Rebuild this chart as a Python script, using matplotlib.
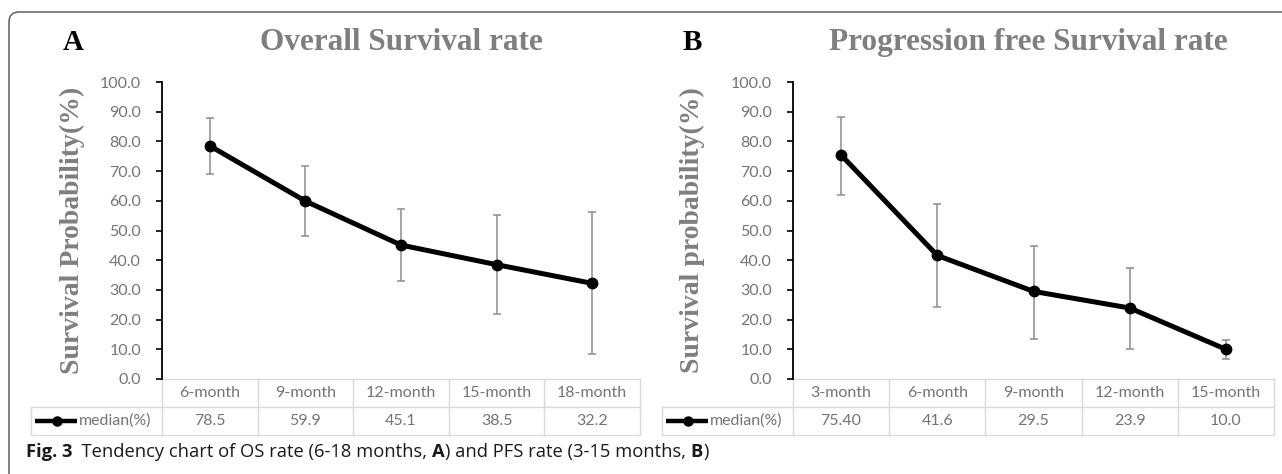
"""
Tendency chart of OS rate (A) and PFS rate (B) with error bars and data table.
"""

import matplotlib
matplotlib.use('Agg')
import matplotlib.pyplot as plt
import matplotlib.patches as mpatches
import matplotlib.transforms as mtransforms
import numpy as np

W, H, DPI = 1282, 474, 100

# --- data ---
os_cats = ['6-month', '9-month', '12-month', '15-month', '18-month']
os_median = [78.5, 59.9, 45.1, 38.5, 32.2]
os_upper = [88.0, 71.7, 57.2, 55.3, 56.2]
os_lower = [69.1, 48.3, 33.0, 21.8, 8.4]
os_labels = ['78.5', '59.9', '45.1', '38.5', '32.2']

pfs_cats = ['3-month', '6-month', '9-month', '12-month', '15-month']
pfs_median = [75.4, 41.6, 29.5, 23.9, 10.0]
pfs_upper = [88.3, 58.8, 44.7, 37.4, 13.2]
pfs_lower = [62.0, 24.1, 13.6, 10.1, 6.7]
pfs_labels = ['75.40', '41.6', '29.5', '23.9', '10.0']

yticks = np.arange(0, 101, 10)

GRID = '#d9d9d9'
TICK_GRAY = '#747474'
TITLE_GRAY = '#7f7f7f'
SANS = ['Lato', 'DejaVu Sans']
SERIF = ['Liberation Serif', 'DejaVu Serif']
CAPTION = ['Open Sans', 'DejaVu Sans']
FS = 11.5


def px_box(left, top, right, bottom):
    '''pixel box (origin top-left) -> figure fractions'''
    return [left / W, 1 - bottom / H, (right - left) / W, (bottom - top) / H]


def draw_table(ax, cats, labels, leg_px, row_px):
    '''table under the axis: category row + "median(%)" row'''
    n = len(cats)
    bb = ax.get_position()
    ax_w = bb.width * W
    ax_h = bb.height * H
    unit = ax_w / n          # pixels per category
    rh = row_px / ax_h       # row height in axes fraction
    left = -0.5 - leg_px / unit
    tr = mtransforms.blended_transform_factory(ax.transData, ax.transAxes)
    kw = dict(color=GRID, lw=1.0, transform=tr, clip_on=False, zorder=1)

    ax.plot([-0.5, n - 0.5], [0, 0], **kw)
    ax.plot([left, n - 0.5], [-rh, -rh], **kw)
    ax.plot([left, n - 0.5], [-2 * rh, -2 * rh], **kw)
    for i in range(n + 1):
        ax.plot([i - 0.5, i - 0.5], [0, -2 * rh], **kw)
    ax.plot([left, left], [-rh, -2 * rh], **kw)

    for i in range(n):
        ax.text(i, -0.5 * rh, cats[i], transform=tr, ha='center', va='center',
                family=SANS, size=FS, color=TICK_GRAY)
        ax.text(i, -1.5 * rh, labels[i], transform=tr, ha='center', va='center',
                family=SANS, size=FS, color=TICK_GRAY)

    # legend key
    ax.plot([left + 4 / unit, left + 46 / unit], [-1.5 * rh] * 2, color='black',
            lw=3.2, transform=tr, clip_on=False, solid_capstyle='butt')
    ax.plot([left + 26 / unit], [-1.5 * rh], 'o', color='black', ms=6.5,
            transform=tr, clip_on=False)
    ax.text(left + 48 / unit, -1.5 * rh, 'median(%)', transform=tr, ha='left',
            va='center', family=SANS, size=FS, color=TICK_GRAY)


def draw_panel(fig, box, cats, median, lower, upper, labels, ylabel, ylabel_x, leg_px):
    ax = fig.add_axes(px_box(*box))
    x = np.arange(len(cats))
    med = np.array(median)
    yerr = [med - np.array(lower), np.array(upper) - med]

    ax.errorbar(x, med, yerr=yerr, fmt='none', ecolor='#8c8c8c', elinewidth=1.1,
                capsize=3.2, capthick=1.1, zorder=2)
    ax.plot(x, med, color='black', lw=3.6, marker='o', ms=7.5, zorder=3)

    ax.set_xlim(-0.5, len(cats) - 0.5)
    ax.set_ylim(0, 100)
    ax.set_yticks(yticks)
    ax.set_yticklabels(['%.1f' % v for v in yticks])
    ax.tick_params(axis='y', direction='out', length=4, width=1.2, color='black',
                   labelsize=FS, labelcolor=TICK_GRAY, pad=11)
    for lab in ax.get_yticklabels():
        lab.set_family(SANS)
    ax.set_xticks([])
    for s in ['top', 'right', 'bottom']:
        ax.spines[s].set_visible(False)
    ax.spines['left'].set_linewidth(1.3)
    ax.spines['left'].set_zorder(5)

    ax.text(ylabel_x, 0.5, ylabel, transform=ax.transAxes, rotation=90,
            ha='center', va='center', family=SERIF, weight='bold', size=20,
            color=TITLE_GRAY)

    draw_table(ax, cats, labels, leg_px, 28)
    return ax


fig = plt.figure(figsize=(W / DPI, H / DPI), dpi=DPI)

# rounded frame, only top and left sides are inside the picture
frame = mpatches.FancyBboxPatch((9 / DPI, -0.5), 14, (H - 12) / DPI + 0.5,
                                boxstyle='round,pad=0,rounding_size=0.1',
                                transform=fig.dpi_scale_trans, fill=False,
                                ec='#5f5f5f', lw=1.1)
fig.add_artist(frame)

draw_panel(fig, (162, 82, 640, 379), os_cats, os_median, os_lower, os_upper,
           os_labels, 'Survival Probability(%)', -0.188, 131)
draw_panel(fig, (793, 82, 1274, 379), pfs_cats, pfs_median, pfs_lower, pfs_upper,
           pfs_labels, 'Survival probability(%)', -0.210, 131)

# panel letters and titles (baseline at y=50px)
yb = 1 - 50 / H
fig.text(63 / W, yb, 'A', family=SERIF, weight='bold', size=21, color='black',
         va='baseline')
fig.text(683 / W, yb, 'B', family=SERIF, weight='bold', size=21, color='black',
         va='baseline')
fig.text(401 / W, yb, 'Overall Survival rate', family=SERIF, weight='bold', size=22.5,
         color=TITLE_GRAY, ha='center', va='baseline')
fig.text(1028 / W, yb, 'Progression free Survival rate', family=SERIF, weight='bold',
         size=22.5, color=TITLE_GRAY, ha='center', va='baseline')

# caption, drawn piece by piece
pieces = [('Fig. 3', 'bold'), ('  Tendency chart of OS rate (6-18 months, ', 'normal'),
          ('A', 'bold'), (') and PFS rate (3-15 months, ', 'normal'), ('B', 'bold'),
          (')', 'normal')]
renderer = fig.canvas.get_renderer()
xpos = 26
cy = 1 - 457 / H
for txt, wgt in pieces:
    t = fig.text(xpos / W, cy, txt, family=CAPTION, weight=wgt, size=13.2,
                 color='#1a1a1a', va='baseline')
    xpos += t.get_window_extent(renderer=renderer).width

fig.savefig('out.png', dpi=DPI)
